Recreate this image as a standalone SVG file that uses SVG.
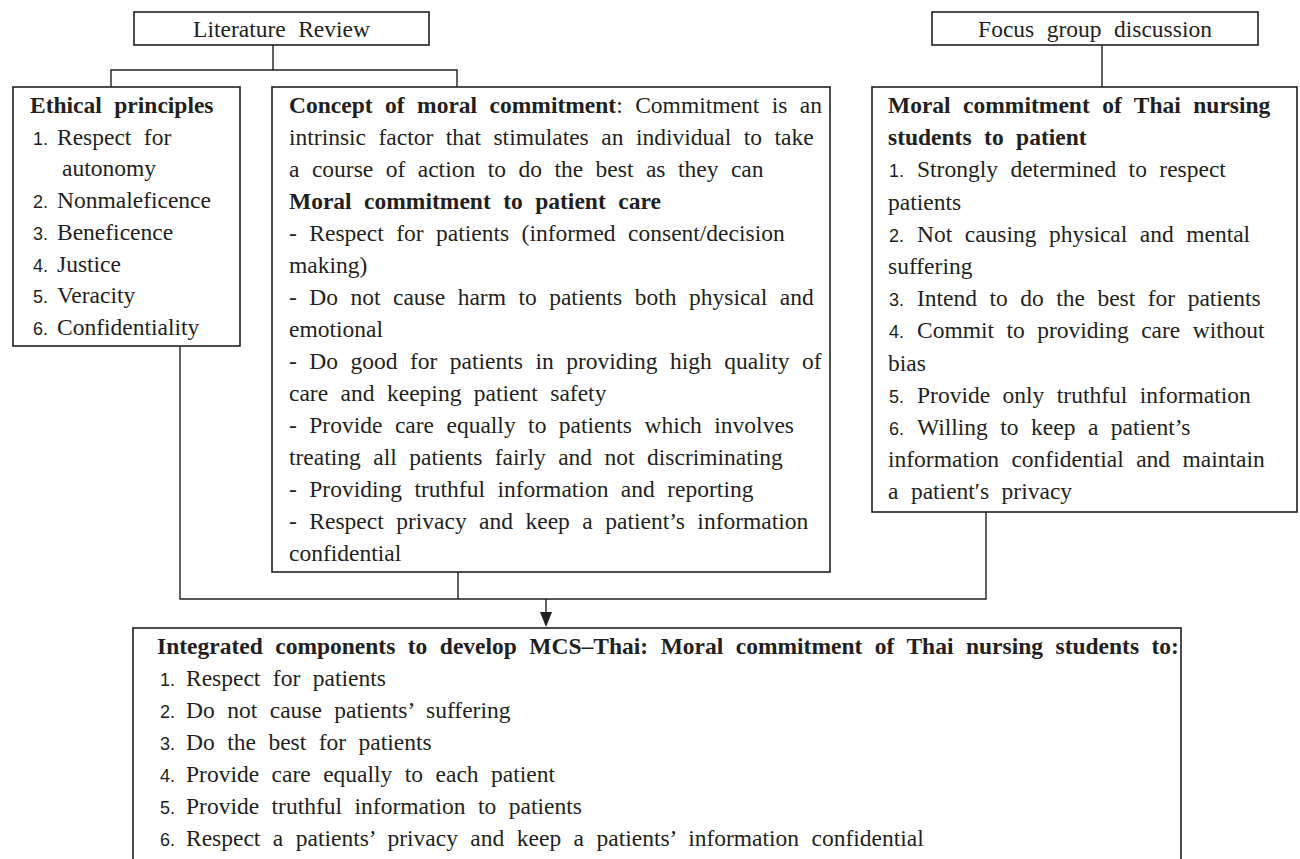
<svg xmlns="http://www.w3.org/2000/svg" width="1300" height="859" viewBox="0 0 1300 859">
<style>
.t{font-family:"Liberation Serif","Times New Roman",serif;font-size:23.5px;fill:#231f20;word-spacing:6.6px}
.b{font-weight:bold}
.n{font-family:"Liberation Sans",Arial,sans-serif;font-size:18px;word-spacing:0}
.c{text-anchor:middle}
.box{fill:#fff;stroke:#231f20;stroke-width:1.6}
.ln{fill:none;stroke:#231f20;stroke-width:1.4}
</style>
<defs>
<marker id="ah" markerUnits="userSpaceOnUse" markerWidth="14" markerHeight="16" refX="6" refY="15" orient="auto-start-reverse" viewBox="0 0 12 16">
<path d="M0,0 L12,0 L6,15 Z" fill="#231f20" transform="rotate(0)"/>
</marker>
</defs>
<rect width="1300" height="859" fill="#fff"/>

<g id="connectors">
<path class="ln" d="M273,45 V70 M111,87 V70 H457 V87"/>
<path class="ln" d="M1102,45 V87"/>
<path class="ln" d="M180,346 V599 H986 V512 M458,572 V599"/>
<line class="ln" x1="546" y1="599" x2="546" y2="613"/>
<path d="M540,612 L552,612 L546,627 Z" fill="#231f20"/>
</g>

<g id="literature-review">
<rect class="box" x="134" y="12" width="295" height="33"/>
<text class="t c" x="281.5" y="37">Literature Review</text>
</g>

<g id="focus-group">
<rect class="box" x="932" y="12" width="326" height="33"/>
<text class="t c" x="1095" y="37">Focus group discussion</text>
</g>

<g id="ethical-principles">
<rect class="box" x="13" y="87" width="227" height="259"/>
<text class="t b" x="30" y="113">Ethical principles</text>
<text class="t" x="33" y="144.7"><tspan class="n">1.</tspan><tspan x="57">Respect for</tspan></text>
<text class="t" x="62" y="176.4">autonomy</text>
<text class="t" x="33" y="208.1"><tspan class="n">2.</tspan><tspan x="57">Nonmaleficence</tspan></text>
<text class="t" x="33" y="239.8"><tspan class="n">3.</tspan><tspan x="57">Beneficence</tspan></text>
<text class="t" x="33" y="271.5"><tspan class="n">4.</tspan><tspan x="57">Justice</tspan></text>
<text class="t" x="33" y="303.2"><tspan class="n">5.</tspan><tspan x="57">Veracity</tspan></text>
<text class="t" x="33" y="334.9"><tspan class="n">6.</tspan><tspan x="57">Confidentiality</tspan></text>
</g>

<g id="moral-commitment-concept">
<rect class="box" x="272" y="87" width="558" height="485"/>
<text class="t" x="289" y="113"><tspan class="b">Concept of moral commitment</tspan>: Commitment is an</text>
<text class="t" x="289" y="145">intrinsic factor that stimulates an individual to take</text>
<text class="t" x="289" y="177">a course of action to do the best as they can</text>
<text class="t b" x="289" y="209">Moral commitment to patient care</text>
<text class="t" x="289" y="241">- Respect for patients (informed consent/decision</text>
<text class="t" x="289" y="273">making)</text>
<text class="t" x="289" y="305">- Do not cause harm to patients both physical and</text>
<text class="t" x="289" y="337">emotional</text>
<text class="t" x="289" y="369">- Do good for patients in providing high quality of</text>
<text class="t" x="289" y="401">care and keeping patient safety</text>
<text class="t" x="289" y="433">- Provide care equally to patients which involves</text>
<text class="t" x="289" y="465">treating all patients fairly and not discriminating</text>
<text class="t" x="289" y="497">- Providing truthful information and reporting</text>
<text class="t" x="289" y="529">- Respect privacy and keep a patient’s information</text>
<text class="t" x="289" y="561">confidential</text>
</g>

<g id="thai-students-commitment">
<rect class="box" x="872" y="87" width="425" height="425"/>
<text class="t b" x="888" y="113">Moral commitment of Thai nursing</text>
<text class="t b" x="888" y="145.2">students to patient</text>
<text class="t" x="889" y="177.4"><tspan class="n">1.</tspan><tspan x="917">Strongly determined to respect</tspan></text>
<text class="t" x="888" y="209.6">patients</text>
<text class="t" x="889" y="241.8"><tspan class="n">2.</tspan><tspan x="917">Not causing physical and mental</tspan></text>
<text class="t" x="888" y="274">suffering</text>
<text class="t" x="889" y="306.2"><tspan class="n">3.</tspan><tspan x="917">Intend to do the best for patients</tspan></text>
<text class="t" x="889" y="338.4"><tspan class="n">4.</tspan><tspan x="917">Commit to providing care without</tspan></text>
<text class="t" x="888" y="370.6">bias</text>
<text class="t" x="889" y="402.8"><tspan class="n">5.</tspan><tspan x="917">Provide only truthful information</tspan></text>
<text class="t" x="889" y="435"><tspan class="n">6.</tspan><tspan x="917">Willing to keep a patient’s</tspan></text>
<text class="t" x="888" y="467.2">information confidential and maintain</text>
<text class="t" x="888" y="499.4">a patient′s privacy</text>
</g>

<g id="integrated-components">
<rect class="box" x="133" y="628" width="1048" height="250"/>
<text class="t b" x="157" y="654">Integrated components to develop MCS–Thai: Moral commitment of Thai nursing students to:</text>
<text class="t" x="160" y="686"><tspan class="n">1.</tspan><tspan x="186">Respect for patients</tspan></text>
<text class="t" x="160" y="718"><tspan class="n">2.</tspan><tspan x="186">Do not cause patients’ suffering</tspan></text>
<text class="t" x="160" y="750"><tspan class="n">3.</tspan><tspan x="186">Do the best for patients</tspan></text>
<text class="t" x="160" y="782"><tspan class="n">4.</tspan><tspan x="186">Provide care equally to each patient</tspan></text>
<text class="t" x="160" y="814"><tspan class="n">5.</tspan><tspan x="186">Provide truthful information to patients</tspan></text>
<text class="t" x="160" y="846"><tspan class="n">6.</tspan><tspan x="186">Respect a patients’ privacy and keep a patients’ information confidential</tspan></text>
</g>
</svg>
